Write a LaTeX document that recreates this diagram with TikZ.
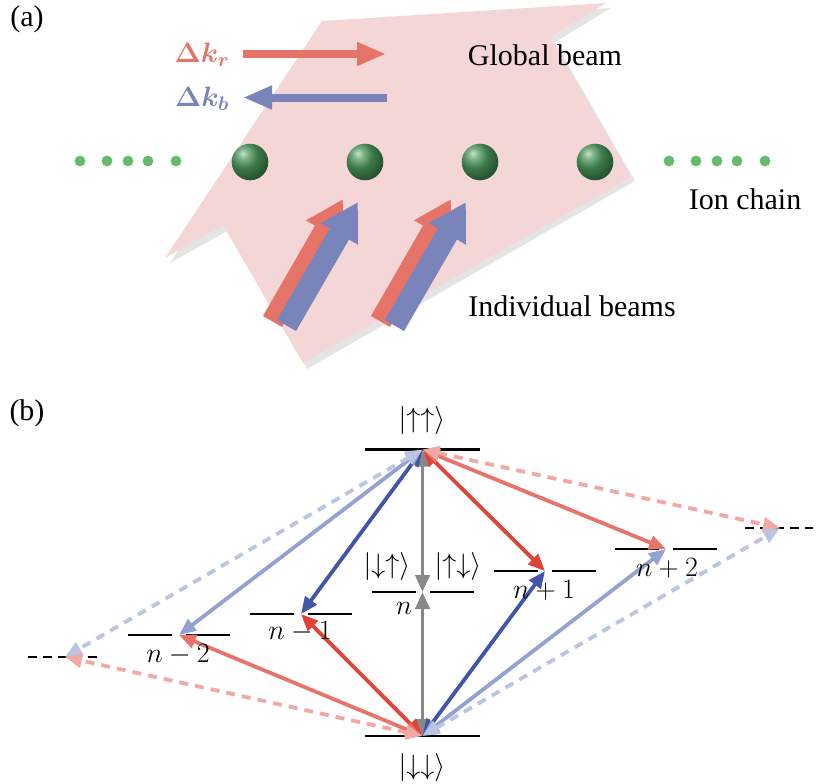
\documentclass[tikz,border=0pt]{standalone}
\usepackage{fix-cm}
\usepackage{amsmath}
\usepackage{fontspec}
\setmainfont{Liberation Serif}
\usetikzlibrary{arrows.meta}
\definecolor{beampink}{HTML}{F4D6D6}
\definecolor{beamgray}{HTML}{E4E4E4}
\definecolor{dotgreen}{HTML}{66BB6A}
\definecolor{kred}{HTML}{E57368}
\definecolor{kblue}{HTML}{7884BA}
\definecolor{strongred}{HTML}{E04438}
\definecolor{strongblue}{HTML}{4156A8}
\definecolor{midred}{HTML}{E8736A}
\definecolor{midblue}{HTML}{95A1D2}
\definecolor{palered}{HTML}{F2A9A3}
\definecolor{paleblue}{HTML}{BCC3E3}
\definecolor{graylink}{HTML}{888888}
\pgfdeclareradialshading{ionball}{\pgfpoint{-10bp}{12bp}}{
    rgb(0bp)=(0.78,0.89,0.79);
    rgb(7bp)=(0.50,0.71,0.54);
    rgb(18bp)=(0.24,0.48,0.29);
    rgb(32bp)=(0.15,0.33,0.18);
    rgb(100bp)=(0.12,0.26,0.14)}
\tikzset{
    txt/.style={font=\fontsize{30}{34}\selectfont, inner sep=0pt},
    mth/.style={font=\fontsize{28}{32}\selectfont, inner sep=0pt},
    levelline/.style={line width=2.4pt},
    thinarrow/.style={line width=8pt, -{Triangle[width=22pt,length=29pt]}},
    bigarrow/.style={line width=22pt, -{Triangle[width=40pt,length=37pt]}},
    link/.style={line width=3.8pt, {Triangle[width=14pt,length=17pt]}-{Triangle[width=14pt,length=17pt]}},
    dashlink/.style={link, dash pattern=on 9pt off 7pt},
}
\begin{document}
\begin{tikzpicture}[x=1pt,y=-1pt]
    \useasboundingbox (0,0) rectangle (830,784);
    \node[txt] (parta) at (27,19) {(a)};
    \node[txt] (partb) at (27,413) {(b)};

    % global beam
    \fill[beamgray] (327,26) -- (611,8) -- (555,42) -- (635,181) -- (307,369) -- (227,231) -- (170,263) -- cycle;
    \fill[beampink] (322,21) -- (606,3) -- (550,37) -- (631,177) -- (303,363) -- (223,225) -- (165,258) -- cycle;

    % ion chain
    \foreach \x in {80,107,128,148,176,669,696,717,737,765}
        {\fill[dotgreen] (\x,161) circle (5.4);}
    \foreach \x in {250,365,480,595}
        {\shade[shading=ionball] (\x,162) circle (18.3);}

    % wave vectors
    \draw[thinarrow,kred] (243,54) -- (386,54);
    \draw[thinarrow,kblue] (387,97.5) -- (243,97.5);
    \node[mth,text=kred] (kr) at (202,55) {$\boldsymbol{\Delta k_r}$};
    \node[mth,text=kblue] (kb) at (202,99) {$\boldsymbol{\Delta k_b}$};

    % individual beams
    \foreach \dx in {0,108}
        {\draw[bigarrow,kred] (272.5+\dx,321.5) -- (343+\dx,199);
         \draw[bigarrow,kblue] (286.5+\dx,325.5) -- (358+\dx,202);}

    \node[txt] (global) at (545,55) {Global beam};
    \node[txt] (chain) at (745,199) {Ion chain};
    \node[txt] (indiv) at (572,306) {Individual beams};

    % levels
    \foreach \name/\x/\y in {up/422.5/449.5,dn/422.5/736,mid/422.5/592,pone/545/571,ptwo/666/549,mone/301/614,mtwo/179/635,pfar/780/528,mfar/65/657}
        {\coordinate (\name) at (\x,\y);}
    \draw[levelline] ([xshift=-57.5pt]up) -- ([xshift=57.5pt]up);
    \draw[levelline] ([xshift=-57.5pt]dn) -- ([xshift=57.5pt]dn);
    \foreach \name in {mid,pone,ptwo,mone,mtwo}
        {\draw[levelline] ([xshift=-51pt]\name) -- ([xshift=-7pt]\name);
         \draw[levelline] ([xshift=7pt]\name) -- ([xshift=51pt]\name);}
    \draw[levelline,dash pattern=on 9pt off 6pt] ([xshift=-35pt]pfar) -- ([xshift=33pt]pfar);
    \draw[levelline,dash pattern=on 9pt off 6pt] ([xshift=-37pt]mfar) -- ([xshift=32pt]mfar);

    % transitions
    \draw[link,graylink] (up) -- (mid);
    \draw[link,graylink] (dn) -- (mid);
    \draw[link,strongblue] (up) -- (mone);
    \draw[link,strongred] (dn) -- (mone);
    \draw[link,strongred] (up) -- (pone);
    \draw[link,strongblue] (dn) -- (pone);
    \draw[link,midblue] (up) -- (mtwo);
    \draw[link,midred] (dn) -- (mtwo);
    \draw[link,midred] (up) -- (ptwo);
    \draw[link,midblue] (dn) -- (ptwo);
    \draw[dashlink,paleblue] (up) -- (mfar);
    \draw[dashlink,palered] (dn) -- (mfar);
    \draw[dashlink,palered] (up) -- (pfar);
    \draw[dashlink,paleblue] (dn) -- (pfar);

    % level labels
    \node[mth] (kup) at (422,420) {$|{\uparrow\uparrow}\rangle$};
    \node[mth] (kdn) at (422,767) {$|{\downarrow\downarrow}\rangle$};
    \node[mth] (kda) at (387,566) {$|{\downarrow\uparrow}\rangle$};
    \node[mth] (kad) at (458,566) {$|{\uparrow\downarrow}\rangle$};
    \node[mth] (lmid) at (404,608) {$n$};
    \node[mth] (lpone) at (544,590) {$n+1$};
    \node[mth] (lptwo) at (667,568) {$n+2$};
    \node[mth] (lmone) at (300,632) {$n-1$};
    \node[mth] (lmtwo) at (178,655) {$n-2$};
\end{tikzpicture}
\end{document}
